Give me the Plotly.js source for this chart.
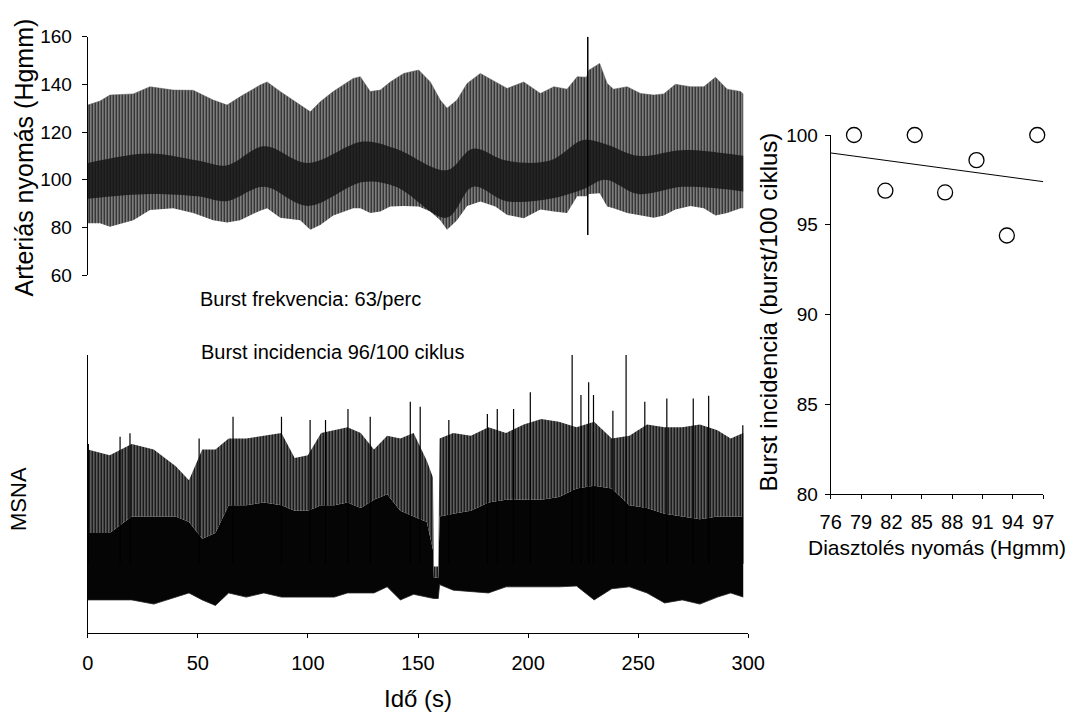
<!DOCTYPE html>
<html><head><meta charset="utf-8">
<script src="https://cdn.plot.ly/plotly-3.0.1.min.js"></script>
<style>html,body{margin:0;padding:0;background:#fff}#chart{width:1067px;height:713px}</style>
</head><body><div id="chart"></div>
<script>
// ---------- Arterial pressure (Hgmm) envelopes ----------
const abpTime = [0, 5.6, 10.1, 20.7, 28.3, 38.8, 47.9, 57.0, 63.3, 69.2, 78.3, 81.5, 87.4, 96.5, 101.1, 105.6, 111.5, 120.6, 123.8, 128.3, 132.9, 137.4, 143.5, 150.3, 155.6, 160.1, 163.2, 167.7, 172.3, 178.3, 185.1, 190.5, 198.0, 205.6, 211.7, 217.7, 222.3, 226.5, 227.7, 232.5, 235.9, 238.8, 245.0, 251.0, 257.1, 261.6, 266.9, 273.7, 279.8, 285.1, 290.4, 296.5, 297.7];
const abpHigh = [131.3, 133, 135.5, 136, 139, 137.6, 137.5, 133.4, 131.3, 134.8, 139.7, 141, 137, 131.3, 128.5, 132.7, 137, 142.5, 143.2, 137, 137.6, 141, 144.6, 146, 141, 133.4, 130, 133.4, 140.4, 144.6, 141, 138.3, 141, 136.2, 139, 138, 143.2, 143, 146, 148.8, 140.4, 138, 139, 136.2, 135.5, 136, 140, 139, 139, 143, 138, 137, 136];
const abpLow = [81.7, 81.7, 80.3, 83, 87.3, 88, 86, 83, 82, 83, 87, 88, 84, 83, 79, 81, 85, 88, 88, 86, 86.6, 88.7, 89, 88.7, 86.6, 83, 79, 83, 89, 90.8, 88.7, 85.2, 83.8, 87.5, 86.6, 86, 93, 93, 94, 94.3, 88.7, 88, 86, 85, 84, 85, 87.5, 89, 88, 85, 86, 88, 88];
// dense (dark) middle part of the pressure trace
const abpBandTime = [0, 28, 50, 63, 80, 100, 125, 140, 163, 175, 190, 210, 225, 235, 250, 270, 290, 297.7];
const abpBandHi = [107, 111, 108, 106, 114, 107, 116, 113, 104, 113, 108, 108, 116.6, 115, 110, 112.4, 111, 110];
const abpBandLo = [92, 94, 93, 91, 97, 89, 99, 97, 84, 97, 91, 92, 96, 100, 94, 97, 96, 95];
// artefact spike
const abpSpikeTime = [227.1, 227.1];
const abpSpikeVal = [76.8, 160];

// ---------- MSNA (arbitrary units, 0-100 of the panel) ----------
const msnaTime = [0, 10, 20, 30, 40, 46, 52, 58, 64, 72, 80, 88, 94, 100, 106, 112, 118, 124, 130, 136, 142, 148, 154, 156.8, 157.2, 159.2, 159.8, 166, 174, 182, 190, 198, 206, 214, 222, 230, 238, 246, 254, 262, 270, 278, 286, 292, 297.7];
const msnaLow = [12, 12, 12, 10.5, 13, 14.5, 12, 10, 14.5, 13, 14.5, 13, 13, 13, 13, 13, 14.5, 14.5, 14.5, 16.7, 12, 14, 13, 12.5, 12.5, 12.5, 17.5, 15.5, 15, 14.5, 16.7, 16.7, 16.7, 16.7, 17, 12, 16, 16.7, 14.5, 10.9, 12, 10.5, 13, 14.5, 13];
const msnaBody = [36, 36, 42, 42, 42, 40, 34, 36, 46, 46, 47, 46, 44, 44, 46, 46, 47, 45, 48, 50, 44, 42, 40, 30, 20, 20, 42, 43, 44, 47, 48, 48, 48, 49, 52, 53, 52, 46, 45, 43, 42, 41, 42, 42, 42];
const msnaEnv = [66, 64, 68, 66, 60, 55, 66, 66, 70, 70, 71, 72, 63, 64, 72, 73, 74, 72, 66, 71, 70, 72, 62, 56, 24, 24, 70, 72, 71, 74, 72, 75, 77, 76, 74, 76, 70, 71, 75, 74, 74, 75, 73, 70, 72];
const msnaSpikeTime = [0.3, 14.7, 19.2, 50.6, 66, 88, 101, 108, 118.2, 128.3, 146.5, 151, 164, 181.5, 186, 193.4, 201, 220, 224, 227.5, 229.7, 238.5, 244.5, 253, 263, 275, 282, 297.5];
const msnaSpikeVal = [68, 70.6, 71.9, 70, 77.8, 77.8, 76.6, 76.6, 80.6, 77.8, 83.2, 81.4, 76.6, 78.8, 80.6, 80.6, 86.6, 100, 85.6, 90.2, 85.6, 80, 100, 83.2, 84.4, 84.4, 85.4, 74.8];

// ---------- Scatter: burst incidence vs diastolic pressure ----------
const diastolic = [78.3, 81.4, 84.3, 87.3, 90.4, 93.4, 96.4];
const incidence = [100, 96.9, 100, 96.8, 98.6, 94.4, 100];
const regX = [76, 97];
const regY = [99.0, 97.4];

const timeTicks = [0, 50, 100, 150, 200, 250, 300];
const abpTicks = [60, 80, 100, 120, 140, 160];
const diaTicks = [76, 79, 82, 85, 88, 91, 94, 97];
const incTicks = [80, 85, 90, 95, 100];

// ---------- layout helpers (pixel -> paper) ----------
const W = 1067, H = 713;
const fx = p => p / W;
const fy = p => 1 - p / H;
const REG = 'Liberation Sans, Arial, sans-serif';
const NAR = 'Liberation Sans Narrow, Arial Narrow, Liberation Sans, Arial, sans-serif';

// spike segments
const spX = [], spY = [];
msnaSpikeTime.forEach((t, i) => { spX.push(t, t, null); spY.push(25, msnaSpikeVal[i], null); });

const traces = [
  // ABP outer envelope (striped to suggest individual beats)
  {x: abpTime, y: abpLow, xaxis: 'x2', yaxis: 'y', mode: 'lines', line: {width: 0, color: '#666'}, hoverinfo: 'skip'},
  {x: abpTime, y: abpHigh, xaxis: 'x2', yaxis: 'y', mode: 'lines', fill: 'tonexty', fillcolor: '#777',
   fillpattern: {shape: '|', fgcolor: '#1a1a1a', bgcolor: '#7c7c7c', size: 3, solidity: 0.34},
   line: {width: 0.5, color: '#555'}, hoverinfo: 'skip'},
  // ABP dark middle band
  {x: abpBandTime, y: abpBandLo, xaxis: 'x2', yaxis: 'y', mode: 'lines', line: {width: 0, color: '#222', shape: 'spline'}, hoverinfo: 'skip'},
  {x: abpBandTime, y: abpBandHi, xaxis: 'x2', yaxis: 'y', mode: 'lines', fill: 'tonexty', fillcolor: 'rgba(18,18,18,0.82)', line: {width: 0, color: '#222', shape: 'spline'}, hoverinfo: 'skip'},
  // spike
  {x: abpSpikeTime, y: abpSpikeVal, xaxis: 'x2', yaxis: 'y', mode: 'lines', line: {width: 1.5, color: '#000'}, hoverinfo: 'skip'},

  // MSNA
  {x: msnaTime, y: msnaLow, xaxis: 'x', yaxis: 'y2', mode: 'lines', line: {width: 0.8, color: '#222'}, hoverinfo: 'skip'},
  {x: msnaTime, y: msnaBody, xaxis: 'x', yaxis: 'y2', mode: 'lines', fill: 'tonexty', fillcolor: '#050505', line: {width: 0, color: '#000'}, hoverinfo: 'skip'},
  {x: msnaTime, y: msnaEnv, xaxis: 'x', yaxis: 'y2', mode: 'lines', fill: 'tonexty', fillcolor: '#333',
   fillpattern: {shape: '|', fgcolor: '#000', bgcolor: '#9a9a9a', size: 3, solidity: 0.6},
   line: {width: 0, color: '#333'}, hoverinfo: 'skip'},
  {x: spX, y: spY, xaxis: 'x', yaxis: 'y2', mode: 'lines', line: {width: 1.2, color: '#000'}, connectgaps: false, hoverinfo: 'skip'},

  // scatter panel
  {x: regX, y: regY, xaxis: 'x3', yaxis: 'y3', mode: 'lines', line: {width: 1, color: '#000'}, hoverinfo: 'skip'},
  {x: diastolic, y: incidence, xaxis: 'x3', yaxis: 'y3', mode: 'markers', cliponaxis: false,
   marker: {symbol: 'circle', size: 15, color: '#fff', line: {width: 1.3, color: '#000'}}, hoverinfo: 'skip'}
];

const axBase = {showgrid: false, zeroline: false, showline: true, linecolor: '#000', linewidth: 1,
  tickcolor: '#000', tickwidth: 1, ticklen: 5, ticks: 'outside', fixedrange: true};

const layout = {
  width: W, height: H, margin: {l: 0, r: 0, t: 0, b: 0},
  paper_bgcolor: '#fff', plot_bgcolor: 'rgba(0,0,0,0)', showlegend: false,
  font: {family: REG, color: '#000', size: 18},
  xaxis: Object.assign({}, axBase, {domain: [fx(87.7), fx(748.3)], range: [0, 300], anchor: 'y2',
    tickvals: timeTicks, ticklen: 4, tickfont: {family: NAR, size: 20}, ticklabelstandoff: 8}),
  yaxis2: Object.assign({}, axBase, {domain: [fy(633.3), fy(355)], range: [0, 100], anchor: 'x',
    ticks: '', showticklabels: false}),
  xaxis2: {domain: [fx(87.7), fx(748.3)], range: [0, 300], anchor: 'y', visible: false, fixedrange: true},
  yaxis: Object.assign({}, axBase, {domain: [fy(275), fy(36.7)], range: [60, 160], anchor: 'x2',
    tickvals: abpTicks, tickfont: {family: REG, size: 19}, ticklabelstandoff: 6}),
  xaxis3: Object.assign({}, axBase, {domain: [fx(830.7), fx(1043.3)], range: [76, 97], anchor: 'y3',
    tickvals: diaTicks, ticklen: 4, tickfont: {family: NAR, size: 20}, ticklabelstandoff: 6}),
  yaxis3: Object.assign({}, axBase, {domain: [fy(494), fy(135)], range: [80, 100], anchor: 'x3',
    tickvals: incTicks, tickfont: {family: REG, size: 19}, ticklabelstandoff: 3}),
  annotations: [
    {text: 'Arteriás nyomás (Hgmm)', xref: 'paper', yref: 'paper', x: fx(23), y: fy(157.5), textangle: -90,
     showarrow: false, xanchor: 'center', yanchor: 'middle', font: {family: REG, size: 25}},
    {text: 'MSNA', xref: 'paper', yref: 'paper', x: fx(19), y: fy(499), textangle: -90,
     showarrow: false, xanchor: 'center', yanchor: 'middle', font: {family: REG, size: 22}},
    {text: 'Burst incidencia (burst/100 ciklus)', xref: 'paper', yref: 'paper', x: fx(768), y: fy(312.5), textangle: -90,
     showarrow: false, xanchor: 'center', yanchor: 'middle', font: {family: REG, size: 24}},
    {text: 'Idő (s)', xref: 'paper', yref: 'paper', x: fx(418), y: fy(698),
     showarrow: false, xanchor: 'center', yanchor: 'middle', font: {family: NAR, size: 24}},
    {text: 'Diasztolés nyomás (Hgmm)', xref: 'paper', yref: 'paper', x: fx(936.5), y: fy(547),
     showarrow: false, xanchor: 'center', yanchor: 'middle', font: {family: REG, size: 21}},
    {text: 'Burst frekvencia: 63/perc', xref: 'paper', yref: 'paper', x: fx(198), y: fy(299),
     showarrow: false, xanchor: 'left', yanchor: 'middle', font: {family: REG, size: 20}},
    {text: 'Burst incidencia 96/100 ciklus', xref: 'paper', yref: 'paper', x: fx(198.5), y: fy(352.3),
     showarrow: false, xanchor: 'left', yanchor: 'middle', font: {family: REG, size: 20}}
  ]
};

Plotly.newPlot('chart', traces, layout, {staticPlot: true, displayModeBar: false});
</script></body></html>
